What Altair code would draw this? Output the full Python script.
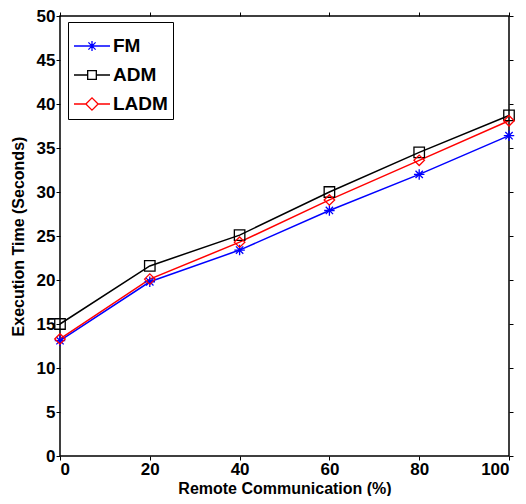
import altair as alt
import pandas as pd

x_vals = [0, 20, 40, 60, 80, 100]
fm = [13.1, 19.8, 23.4, 27.9, 32.0, 36.4]
adm = [15.0, 21.6, 25.1, 30.0, 34.5, 38.7]
ladm = [13.3, 20.1, 24.3, 29.1, 33.6, 38.1]
series = ["FM", "ADM", "LADM"]
colors = ["#0000ff", "#000000", "#ff0000"]
x_ticks = [0, 20, 40, 60, 80, 100]
y_ticks = [0, 5, 10, 15, 20, 25, 30, 35, 40, 45, 50]

rows = []
for name, vals in zip(series, [fm, adm, ladm]):
    for xv, yv in zip(x_vals, vals):
        rows.append({"x": xv, "y": yv, "series": name})
df = pd.DataFrame(rows)

star = "M-1,0H1M0,-1V1M-0.7,-0.7L0.7,0.7M-0.7,0.7L0.7,-0.7"
marker_shapes = [star, "square", "diamond"]
# legend symbols: line segment with marker in the middle
leg_star = "M-1,0H1M-0.28,0H0.28M0,-0.28V0.28M-0.2,-0.2L0.2,0.2M-0.2,0.2L0.2,-0.2"
leg_square = "M-1,0H-0.24M0.24,0H1M-0.24,-0.24H0.24V0.24H-0.24Z"
leg_diamond = "M-1,0H-0.34M0.34,0H1M-0.34,0L0,-0.34L0.34,0L0,0.34Z"
legend_shapes = [leg_star, leg_square, leg_diamond]

FONT = "Liberation Sans"

xs = alt.Scale(domain=[0, 100], nice=False)
ys = alt.Scale(domain=[0, 50], nice=False)


def color_enc(legend=None):
    return alt.Color("series:N", scale=alt.Scale(domain=series, range=colors), legend=legend)


xax = alt.Axis(values=x_ticks, title="Remote Communication (%)", grid=False,
               labelFontSize=17, labelFontWeight="bold", titleFontSize=16,
               titleFontWeight="bold", labelFont=FONT, titleFont=FONT,
               tickSize=4, domain=False, labelPadding=1, titlePadding=3,
               labelColor="#000", titleColor="#000", tickColor="#000")
yax = alt.Axis(values=y_ticks, title="Execution Time (Seconds)", grid=False,
               labelFontSize=17, labelFontWeight="bold", titleFontSize=16,
               titleFontWeight="bold", labelFont=FONT, titleFont=FONT,
               tickSize=4, domain=False, labelPadding=1, titlePadding=10,
               labelColor="#000", titleColor="#000", tickColor="#000")

base = alt.Chart(df)
lines = base.mark_line(strokeWidth=1.5).encode(
    x=alt.X("x:Q", scale=xs, axis=xax),
    y=alt.Y("y:Q", scale=ys, axis=yax),
    color=color_enc(),
)
points = base.mark_point(filled=False, size=110, strokeWidth=1.3, opacity=1).encode(
    x=alt.X("x:Q", scale=xs, axis=None),
    y=alt.Y("y:Q", scale=ys, axis=None),
    color=color_enc(),
    shape=alt.Shape("series:N", scale=alt.Scale(domain=series, range=marker_shapes), legend=None),
)

leg = alt.Legend(title=None, orient="none", legendX=8, legendY=6,
                 symbolSize=1296, symbolStrokeWidth=1.3,
                 labelFontSize=19, labelFontWeight="bold",
                 labelFont=FONT, labelColor="#000",
                 strokeColor="#000", fillColor="#fff",
                 padding=5, rowPadding=-3, labelOffset=2)

legend_layer = base.transform_filter("datum.x < 0").mark_point(
    filled=False, strokeWidth=1.3, opacity=1
).encode(
    x=alt.X("x:Q", scale=xs, axis=None),
    y=alt.Y("y:Q", scale=ys, axis=None),
    color=color_enc(leg),
    shape=alt.Shape("series:N", scale=alt.Scale(domain=series, range=legend_shapes), legend=leg),
)

top_right = base.mark_point(opacity=0).encode(
    x=alt.X("x:Q", scale=xs, axis=alt.Axis(orient="top", values=x_ticks, labels=False,
                                           title=None, grid=False, domain=False, tickSize=4,
                                           tickColor="#000")),
    y=alt.Y("y:Q", scale=ys, axis=alt.Axis(orient="right", values=y_ticks, labels=False,
                                           title=None, grid=False, domain=False, tickSize=4,
                                           tickColor="#000")),
)

chart = alt.layer(lines, points, legend_layer, top_right).resolve_scale(
    shape="independent", color="independent"
).resolve_legend(shape="independent", color="independent").resolve_axis(
    x="independent", y="independent"
).properties(
    width=449, height=440,
    autosize=alt.AutoSizeParams(type="none"),
    padding={"left": 52, "top": 8, "right": 9, "bottom": 40},
).configure_view(stroke="#000", strokeWidth=1.5)

chart.save("out.html", embed_options={"renderer": "svg", "actions": False})
